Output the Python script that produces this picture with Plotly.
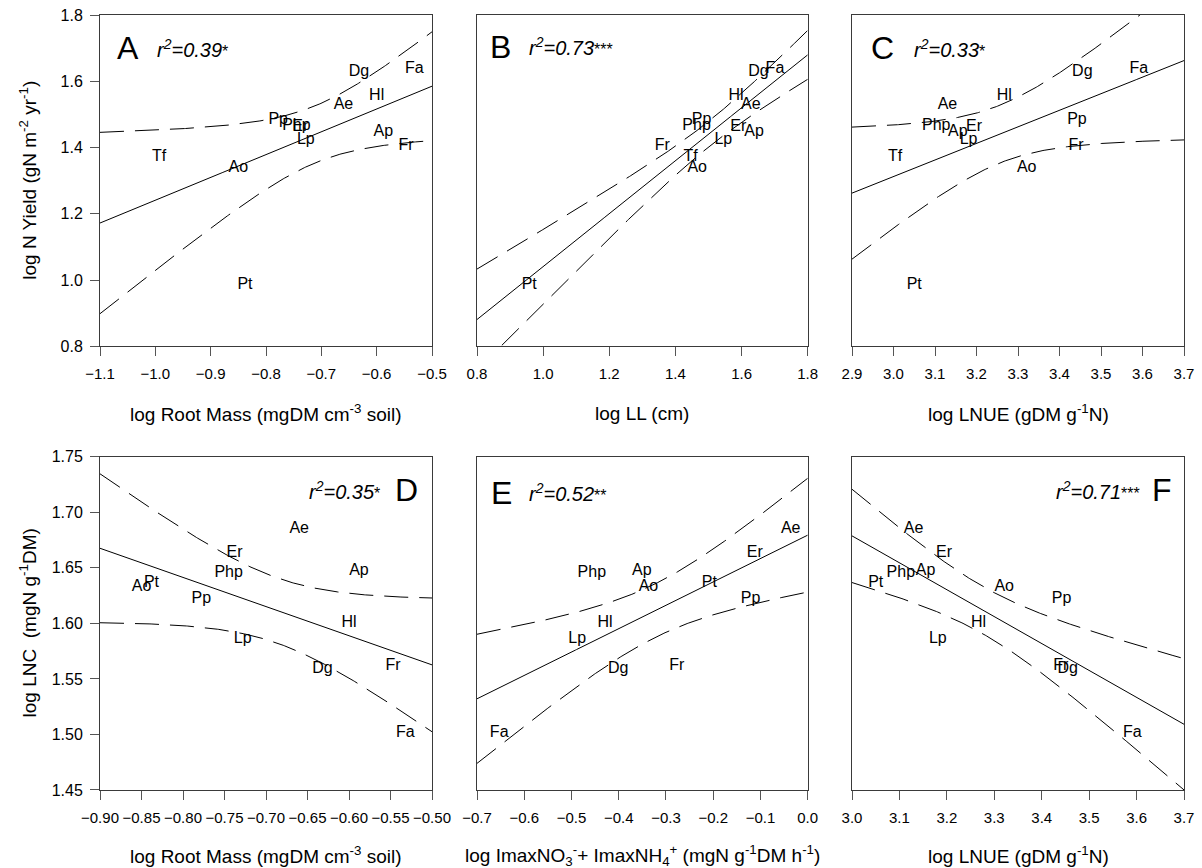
import numpy as np
import plotly.graph_objects as go

# ---------------- data ----------------
species = ["Ae", "Ao", "Ap", "Dg", "Er", "Fa", "Fr", "Hl", "Lp", "Php", "Pp", "Pt", "Tf"]
root_mass = [-0.660, -0.850, -0.588, -0.632, -0.738, -0.532, -0.547, -0.600, -0.728, -0.745, -0.778, -0.838, -0.993]
leaf_length = [1.628, 1.466, 1.638, 1.651, 1.590, 1.701, 1.360, 1.583, 1.545, 1.464, 1.479, 0.958, 1.446]
lnue = [3.130, 3.321, 3.155, 3.455, 3.194, 3.591, 3.440, 3.267, 3.181, 3.103, 3.442, 3.050, 3.004]
n_yield = [1.528, 1.339, 1.446, 1.628, 1.462, 1.637, 1.405, 1.557, 1.422, 1.464, 1.483, 0.986, 1.373]
lnc = [1.685, 1.633, 1.647, 1.559, 1.663, 1.501, 1.562, 1.600, 1.586, 1.645, 1.622, 1.636, None]
imax = [-0.036, -0.337, -0.351, -0.401, -0.112, -0.653, -0.277, -0.429, -0.488, -0.457, -0.121, -0.208, None]

panel_letters = ["A", "B", "C", "D", "E", "F"]
r2_values = ["0.39", "0.73", "0.33", "0.35", "0.52", "0.71"]
r2_stars = ["*", "***", "*", "*", "**", "***"]

x_titles = [
    "log Root Mass (mgDM cm<sup>-3</sup> soil)",
    "log LL (cm)",
    "log LNUE (gDM g<sup>-1</sup>N)",
    "log Root Mass (mgDM cm<sup>-3</sup> soil)",
    "log ImaxNO<sub>3</sub><sup>-</sup>+ ImaxNH<sub>4</sub><sup>+</sup> (mgN g<sup>-1</sup>DM h<sup>-1</sup>)",
    "log LNUE (gDM g<sup>-1</sup>N)",
]
y_titles = ["log N Yield (gN m<sup>-2</sup> yr<sup>-1</sup>)", "log LNC  (mgN g<sup>-1</sup>DM)"]

x_ranges = [[-1.1, -0.5], [0.8, 1.8], [2.9, 3.7], [-0.9, -0.5], [-0.7, 0.0], [3.0, 3.7]]
x_dticks = [0.1, 0.2, 0.1, 0.05, 0.1, 0.1]
x_formats = [".1f", ".1f", ".1f", ".2f", ".1f", ".1f"]
y_ranges = [[0.8, 1.8], [1.45, 1.75]]
y_dticks = [0.2, 0.05]
y_formats = [".1f", ".2f"]

T_CRIT = {11: 2.201, 10: 2.228}  # two-sided 95 % Student t

panel_data = [
    (root_mass, n_yield), (leaf_length, n_yield), (lnue, n_yield),
    (root_mass, lnc), (imax, lnc), (lnue, lnc),
]

# ---------------- layout geometry ----------------
W, H = 1202, 868
ML, MR, MT, MB = 100, 18, 15, 78
PW, PH = W - ML - MR, H - MT - MB
x_domains = [[0.0, 0.30627], [0.34779, 0.65286], [0.69373, 1.0]]
y_domains = [[0.5723, 1.0], [0.0, 0.4299]]


def px_x(p):
    return (p - ML) / PW


def px_y(p):
    return (H - MB - p) / PH


FONT = "Liberation Sans, Arial, Helvetica, sans-serif"
AXIS_LINE = "#3a3a3a"

fig = go.Figure()

for i, (xs, ys) in enumerate(panel_data):
    row, col = divmod(i, 3)
    xa = "x" if i == 0 else f"x{i + 1}"
    ya = "y" if i == 0 else f"y{i + 1}"
    pts = [(s, a, b) for s, a, b in zip(species, xs, ys) if a is not None and b is not None]
    lab = [p[0] for p in pts]
    xv = np.array([p[1] for p in pts])
    yv = np.array([p[2] for p in pts])
    n = len(xv)
    slope, intercept = np.polyfit(xv, yv, 1)
    resid = yv - (intercept + slope * xv)
    s_err = np.sqrt(np.sum(resid ** 2) / (n - 2))
    xm = xv.mean()
    sxx = np.sum((xv - xm) ** 2)
    xr = x_ranges[i]
    xx = np.linspace(xr[0], xr[1], 300)
    yy = intercept + slope * xx
    half = T_CRIT[n - 2] * s_err * np.sqrt(1.0 / n + (xx - xm) ** 2 / sxx)

    fig.add_trace(go.Scatter(x=xx, y=yy, mode="lines", xaxis=xa, yaxis=ya,
                             line=dict(color="black", width=1), showlegend=False, hoverinfo="skip"))
    for sign in (1, -1):
        fig.add_trace(go.Scatter(x=xx, y=yy + sign * half, mode="lines", xaxis=xa, yaxis=ya,
                                 line=dict(color="black", width=1, dash="24px,11px"),
                                 showlegend=False, hoverinfo="skip"))
    fig.add_trace(go.Scatter(x=xv, y=yv, mode="text", text=lab, textposition="middle center",
                             textfont=dict(family=FONT, size=16, color="black"),
                             xaxis=xa, yaxis=ya, showlegend=False, cliponaxis=False))

    xkey = "xaxis" if i == 0 else f"xaxis{i + 1}"
    ykey = "yaxis" if i == 0 else f"yaxis{i + 1}"
    fig.update_layout({
        xkey: dict(domain=x_domains[col], anchor=ya, range=xr, dtick=x_dticks[i],
                   tick0=xr[0], tickformat=x_formats[i], showgrid=False, zeroline=False,
                   showline=True, mirror=True, linecolor=AXIS_LINE, linewidth=1,
                   ticks="outside", ticklen=9, tickcolor="#555", tickwidth=1,
                   ticklabelstandoff=5, tickangle=0, automargin=False,
                   tickfont=dict(family=FONT, size=15, color="black")),
        ykey: dict(domain=y_domains[row], anchor=xa, range=y_ranges[row], dtick=y_dticks[row],
                   tick0=y_ranges[row][0], tickformat=y_formats[row], showgrid=False,
                   zeroline=False, showline=True, mirror=True, linecolor=AXIS_LINE, linewidth=1,
                   ticks="outside" if col == 0 else "", ticklen=9, tickcolor="#555",
                   showticklabels=(col == 0), ticklabelstandoff=4, automargin=False,
                   tickfont=dict(family=FONT, size=16, color="black")),
    })

annotations = []
# panel letters and r^2 labels (pixel positions of the reference)
letter_pos = [(127.7, 47.7), (500, 46.7), (882.7, 48), (406, 490), (501.7, 492.7), (1161.7, 490)]
r2_pos = [(155, 48, "left"), (527, 47, "left"), (912, 48, "left"),
          (382, 490, "right"), (527, 492, "left"), (1142, 490, "right")]
for i in range(6):
    lx, ly = letter_pos[i]
    annotations.append(dict(x=px_x(lx), y=px_y(ly), xref="paper", yref="paper",
                            text=panel_letters[i], showarrow=False, xanchor="center",
                            yanchor="middle", font=dict(family=FONT, size=32, color="black")))
    rx, ry, anc = r2_pos[i]
    txt = (f"<i>r<sup>2</sup>=" + r2_values[i] + "</i>"
           + f"<span style='font-size:16px'>{r2_stars[i]}</span>")
    annotations.append(dict(x=px_x(rx), y=px_y(ry), xref="paper", yref="paper", text=txt,
                            showarrow=False, xanchor=anc, yanchor="middle",
                            font=dict(family=FONT, size=20, color="black")))

# axis titles
title_y = [413, 855]
for i in range(6):
    row, col = divmod(i, 3)
    cx = (x_domains[col][0] + x_domains[col][1]) / 2
    annotations.append(dict(x=cx, y=px_y(title_y[row]), xref="paper", yref="paper",
                            text=x_titles[i], showarrow=False, xanchor="center", yanchor="middle",
                            font=dict(family=FONT, size=19, color="black")))
for row in range(2):
    cy = (y_domains[row][0] + y_domains[row][1]) / 2
    annotations.append(dict(x=px_x(28), y=cy, xref="paper", yref="paper", text=y_titles[row],
                            showarrow=False, textangle=-90, xanchor="center", yanchor="middle",
                            font=dict(family=FONT, size=19, color="black")))

fig.update_layout(width=W, height=H, margin=dict(l=ML, r=MR, t=MT, b=MB, autoexpand=False),
                  paper_bgcolor="white", plot_bgcolor="white", annotations=annotations,
                  font=dict(family=FONT, color="black"))

fig.write_html("out.html", config={"displayModeBar": False},
               post_script="document.body.style.margin='0px';document.body.style.overflow='hidden';")
